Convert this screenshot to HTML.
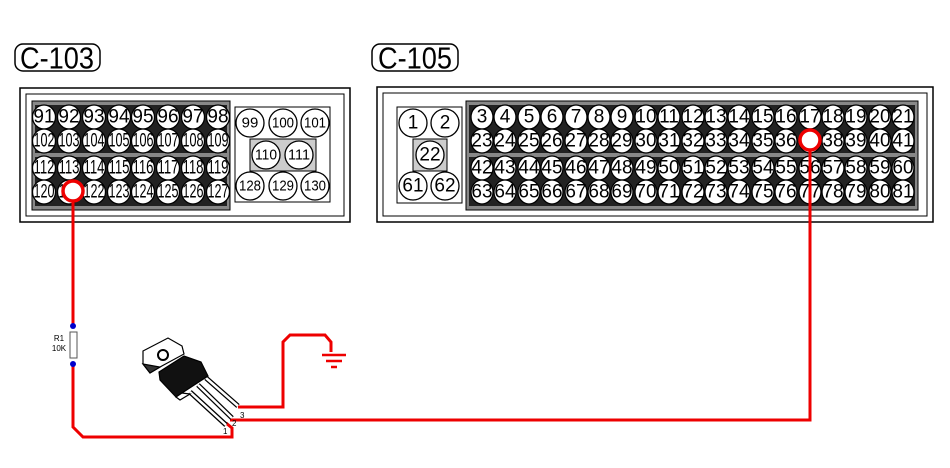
<!DOCTYPE html>
<html><head><meta charset="utf-8"><style>
body{margin:0;background:#fff}
svg{display:block}
.p{fill:#fff;stroke:#000;stroke-width:1.3}
.t{font-family:"Liberation Sans",sans-serif;font-size:19px;text-anchor:middle;dominant-baseline:central;fill:#000}
.s{font-size:15px}
</style></head><body>
<svg width="950" height="468" viewBox="0 0 950 468" xmlns="http://www.w3.org/2000/svg">
<!-- labels -->
<rect x="15" y="44" width="85" height="27" rx="8" fill="none" stroke="#000" stroke-width="1.5"/>
<text x="57" y="58" class="t" style="font-size:31px" textLength="74" lengthAdjust="spacingAndGlyphs">C-103</text>
<rect x="372" y="44" width="86" height="27" rx="8" fill="none" stroke="#000" stroke-width="1.5"/>
<text x="415" y="58" class="t" style="font-size:31px" textLength="74" lengthAdjust="spacingAndGlyphs">C-105</text>

<!-- C-103 box -->
<rect x="20" y="88" width="330" height="134" fill="#fff" stroke="#000" stroke-width="1.5"/>
<rect x="26" y="94" width="318" height="122" fill="none" stroke="#000" stroke-width="1"/>
<rect x="32" y="101" width="198" height="109" fill="#888" stroke="#000"/>
<rect x="35" y="105" width="192" height="48" fill="#222"/>
<rect x="35" y="157" width="192" height="49" fill="#222"/>
<rect x="235" y="107" width="95" height="95" fill="#fff" stroke="#000"/>
<rect x="250" y="139" width="66" height="32" fill="#ccc" stroke="#000"/>

<!-- C-105 box -->
<rect x="377" y="87" width="556" height="135" fill="#fff" stroke="#000" stroke-width="1.5"/>
<rect x="383" y="93" width="544" height="123" fill="none" stroke="#000" stroke-width="1"/>
<rect x="397" y="107" width="65" height="96" fill="#fff" stroke="#000"/>
<rect x="413" y="139" width="34" height="32" fill="#ccc" stroke="#000"/>
<rect x="466" y="101" width="452" height="109" fill="#888" stroke="#000"/>
<rect x="469" y="105" width="446" height="48" fill="#222"/>
<rect x="469" y="157" width="446" height="49" fill="#222"/>

<g id="pins">
<g>
<ellipse class="p" cx="44" cy="117" rx="11.5" ry="12"/><text class="t" x="44" y="117">91</text>
<ellipse class="p" cx="69" cy="117" rx="11.5" ry="12"/><text class="t" x="69" y="117">92</text>
<ellipse class="p" cx="94" cy="117" rx="11.5" ry="12"/><text class="t" x="94" y="117">93</text>
<ellipse class="p" cx="119" cy="117" rx="11.5" ry="12"/><text class="t" x="119" y="117">94</text>
<ellipse class="p" cx="143" cy="117" rx="11.5" ry="12"/><text class="t" x="143" y="117">95</text>
<ellipse class="p" cx="168" cy="117" rx="11.5" ry="12"/><text class="t" x="168" y="117">96</text>
<ellipse class="p" cx="193" cy="117" rx="11.5" ry="12"/><text class="t" x="193" y="117">97</text>
<ellipse class="p" cx="218" cy="117" rx="11.5" ry="12"/><text class="t" x="218" y="117">98</text>
</g>
<g>
<ellipse class="p" cx="44" cy="141" rx="11.5" ry="12"/><text class="t" x="44" y="141" textLength="21" lengthAdjust="spacingAndGlyphs">102</text>
<ellipse class="p" cx="69" cy="141" rx="11.5" ry="12"/><text class="t" x="69" y="141" textLength="21" lengthAdjust="spacingAndGlyphs">103</text>
<ellipse class="p" cx="94" cy="141" rx="11.5" ry="12"/><text class="t" x="94" y="141" textLength="21" lengthAdjust="spacingAndGlyphs">104</text>
<ellipse class="p" cx="119" cy="141" rx="11.5" ry="12"/><text class="t" x="119" y="141" textLength="21" lengthAdjust="spacingAndGlyphs">105</text>
<ellipse class="p" cx="143" cy="141" rx="11.5" ry="12"/><text class="t" x="143" y="141" textLength="21" lengthAdjust="spacingAndGlyphs">106</text>
<ellipse class="p" cx="168" cy="141" rx="11.5" ry="12"/><text class="t" x="168" y="141" textLength="21" lengthAdjust="spacingAndGlyphs">107</text>
<ellipse class="p" cx="193" cy="141" rx="11.5" ry="12"/><text class="t" x="193" y="141" textLength="21" lengthAdjust="spacingAndGlyphs">108</text>
<ellipse class="p" cx="218" cy="141" rx="11.5" ry="12"/><text class="t" x="218" y="141" textLength="21" lengthAdjust="spacingAndGlyphs">109</text>
</g>
<g>
<ellipse class="p" cx="44" cy="168" rx="11.5" ry="12"/><text class="t" x="44" y="168" textLength="21" lengthAdjust="spacingAndGlyphs">112</text>
<ellipse class="p" cx="69" cy="168" rx="11.5" ry="12"/><text class="t" x="69" y="168" textLength="21" lengthAdjust="spacingAndGlyphs">113</text>
<ellipse class="p" cx="94" cy="168" rx="11.5" ry="12"/><text class="t" x="94" y="168" textLength="21" lengthAdjust="spacingAndGlyphs">114</text>
<ellipse class="p" cx="119" cy="168" rx="11.5" ry="12"/><text class="t" x="119" y="168" textLength="21" lengthAdjust="spacingAndGlyphs">115</text>
<ellipse class="p" cx="143" cy="168" rx="11.5" ry="12"/><text class="t" x="143" y="168" textLength="21" lengthAdjust="spacingAndGlyphs">116</text>
<ellipse class="p" cx="168" cy="168" rx="11.5" ry="12"/><text class="t" x="168" y="168" textLength="21" lengthAdjust="spacingAndGlyphs">117</text>
<ellipse class="p" cx="193" cy="168" rx="11.5" ry="12"/><text class="t" x="193" y="168" textLength="21" lengthAdjust="spacingAndGlyphs">118</text>
<ellipse class="p" cx="218" cy="168" rx="11.5" ry="12"/><text class="t" x="218" y="168" textLength="21" lengthAdjust="spacingAndGlyphs">119</text>
</g>
<g>
<ellipse class="p" cx="44" cy="192" rx="11.5" ry="12"/><text class="t" x="44" y="192" textLength="21" lengthAdjust="spacingAndGlyphs">120</text>
<ellipse class="p" cx="69" cy="192" rx="11.5" ry="12"/><text class="t" x="69" y="192" textLength="21" lengthAdjust="spacingAndGlyphs">121</text>
<ellipse class="p" cx="94" cy="192" rx="11.5" ry="12"/><text class="t" x="94" y="192" textLength="21" lengthAdjust="spacingAndGlyphs">122</text>
<ellipse class="p" cx="119" cy="192" rx="11.5" ry="12"/><text class="t" x="119" y="192" textLength="21" lengthAdjust="spacingAndGlyphs">123</text>
<ellipse class="p" cx="143" cy="192" rx="11.5" ry="12"/><text class="t" x="143" y="192" textLength="21" lengthAdjust="spacingAndGlyphs">124</text>
<ellipse class="p" cx="168" cy="192" rx="11.5" ry="12"/><text class="t" x="168" y="192" textLength="21" lengthAdjust="spacingAndGlyphs">125</text>
<ellipse class="p" cx="193" cy="192" rx="11.5" ry="12"/><text class="t" x="193" y="192" textLength="21" lengthAdjust="spacingAndGlyphs">126</text>
<ellipse class="p" cx="218" cy="192" rx="11.5" ry="12"/><text class="t" x="218" y="192" textLength="21" lengthAdjust="spacingAndGlyphs">127</text>
</g>
<circle class="p" cx="250" cy="123" r="14"/><text class="t s" x="250" y="123">99</text>
<circle class="p" cx="283" cy="123" r="14"/><text class="t s" x="283" y="123" textLength="22" lengthAdjust="spacingAndGlyphs">100</text>
<circle class="p" cx="315" cy="123" r="14"/><text class="t s" x="315" y="123" textLength="22" lengthAdjust="spacingAndGlyphs">101</text>
<circle class="p" cx="266" cy="155" r="14"/><text class="t s" x="266" y="155" textLength="22" lengthAdjust="spacingAndGlyphs">110</text>
<circle class="p" cx="299" cy="155" r="14"/><text class="t s" x="299" y="155" textLength="22" lengthAdjust="spacingAndGlyphs">111</text>
<circle class="p" cx="250" cy="186" r="14"/><text class="t s" x="250" y="186" textLength="22" lengthAdjust="spacingAndGlyphs">128</text>
<circle class="p" cx="283" cy="186" r="14"/><text class="t s" x="283" y="186" textLength="22" lengthAdjust="spacingAndGlyphs">129</text>
<circle class="p" cx="315" cy="186" r="14"/><text class="t s" x="315" y="186" textLength="22" lengthAdjust="spacingAndGlyphs">130</text>
<circle class="p" cx="413" cy="123" r="14"/><text class="t" x="413" y="123">1</text>
<circle class="p" cx="445" cy="123" r="14"/><text class="t" x="445" y="123">2</text>
<circle class="p" cx="430" cy="155" r="14"/><text class="t" x="430" y="155">22</text>
<circle class="p" cx="413" cy="186" r="14"/><text class="t" x="413" y="186">61</text>
<circle class="p" cx="445" cy="186" r="14"/><text class="t" x="445" y="186">62</text>
<g>
<ellipse class="p" cx="482" cy="117" rx="11" ry="12"/><text class="t" x="482" y="117">3</text>
<ellipse class="p" cx="505" cy="117" rx="11" ry="12"/><text class="t" x="505" y="117">4</text>
<ellipse class="p" cx="529" cy="117" rx="11" ry="12"/><text class="t" x="529" y="117">5</text>
<ellipse class="p" cx="552" cy="117" rx="11" ry="12"/><text class="t" x="552" y="117">6</text>
<ellipse class="p" cx="576" cy="117" rx="11" ry="12"/><text class="t" x="576" y="117">7</text>
<ellipse class="p" cx="599" cy="117" rx="11" ry="12"/><text class="t" x="599" y="117">8</text>
<ellipse class="p" cx="622" cy="117" rx="11" ry="12"/><text class="t" x="622" y="117">9</text>
<ellipse class="p" cx="646" cy="117" rx="11" ry="12"/><text class="t" x="646" y="117">10</text>
<ellipse class="p" cx="669" cy="117" rx="11" ry="12"/><text class="t" x="669" y="117">11</text>
<ellipse class="p" cx="693" cy="117" rx="11" ry="12"/><text class="t" x="693" y="117">12</text>
<ellipse class="p" cx="716" cy="117" rx="11" ry="12"/><text class="t" x="716" y="117">13</text>
<ellipse class="p" cx="739" cy="117" rx="11" ry="12"/><text class="t" x="739" y="117">14</text>
<ellipse class="p" cx="763" cy="117" rx="11" ry="12"/><text class="t" x="763" y="117">15</text>
<ellipse class="p" cx="786" cy="117" rx="11" ry="12"/><text class="t" x="786" y="117">16</text>
<ellipse class="p" cx="810" cy="117" rx="11" ry="12"/><text class="t" x="810" y="117">17</text>
<ellipse class="p" cx="833" cy="117" rx="11" ry="12"/><text class="t" x="833" y="117">18</text>
<ellipse class="p" cx="856" cy="117" rx="11" ry="12"/><text class="t" x="856" y="117">19</text>
<ellipse class="p" cx="880" cy="117" rx="11" ry="12"/><text class="t" x="880" y="117">20</text>
<ellipse class="p" cx="903" cy="117" rx="11" ry="12"/><text class="t" x="903" y="117">21</text>
</g>
<g>
<ellipse class="p" cx="482" cy="141" rx="11" ry="12"/><text class="t" x="482" y="141">23</text>
<ellipse class="p" cx="505" cy="141" rx="11" ry="12"/><text class="t" x="505" y="141">24</text>
<ellipse class="p" cx="529" cy="141" rx="11" ry="12"/><text class="t" x="529" y="141">25</text>
<ellipse class="p" cx="552" cy="141" rx="11" ry="12"/><text class="t" x="552" y="141">26</text>
<ellipse class="p" cx="576" cy="141" rx="11" ry="12"/><text class="t" x="576" y="141">27</text>
<ellipse class="p" cx="599" cy="141" rx="11" ry="12"/><text class="t" x="599" y="141">28</text>
<ellipse class="p" cx="622" cy="141" rx="11" ry="12"/><text class="t" x="622" y="141">29</text>
<ellipse class="p" cx="646" cy="141" rx="11" ry="12"/><text class="t" x="646" y="141">30</text>
<ellipse class="p" cx="669" cy="141" rx="11" ry="12"/><text class="t" x="669" y="141">31</text>
<ellipse class="p" cx="693" cy="141" rx="11" ry="12"/><text class="t" x="693" y="141">32</text>
<ellipse class="p" cx="716" cy="141" rx="11" ry="12"/><text class="t" x="716" y="141">33</text>
<ellipse class="p" cx="739" cy="141" rx="11" ry="12"/><text class="t" x="739" y="141">34</text>
<ellipse class="p" cx="763" cy="141" rx="11" ry="12"/><text class="t" x="763" y="141">35</text>
<ellipse class="p" cx="786" cy="141" rx="11" ry="12"/><text class="t" x="786" y="141">36</text>
<ellipse class="p" cx="810" cy="141" rx="11" ry="12"/><text class="t" x="810" y="141">37</text>
<ellipse class="p" cx="833" cy="141" rx="11" ry="12"/><text class="t" x="833" y="141">38</text>
<ellipse class="p" cx="856" cy="141" rx="11" ry="12"/><text class="t" x="856" y="141">39</text>
<ellipse class="p" cx="880" cy="141" rx="11" ry="12"/><text class="t" x="880" y="141">40</text>
<ellipse class="p" cx="903" cy="141" rx="11" ry="12"/><text class="t" x="903" y="141">41</text>
</g>
<g>
<ellipse class="p" cx="482" cy="168" rx="11" ry="12"/><text class="t" x="482" y="168">42</text>
<ellipse class="p" cx="505" cy="168" rx="11" ry="12"/><text class="t" x="505" y="168">43</text>
<ellipse class="p" cx="529" cy="168" rx="11" ry="12"/><text class="t" x="529" y="168">44</text>
<ellipse class="p" cx="552" cy="168" rx="11" ry="12"/><text class="t" x="552" y="168">45</text>
<ellipse class="p" cx="576" cy="168" rx="11" ry="12"/><text class="t" x="576" y="168">46</text>
<ellipse class="p" cx="599" cy="168" rx="11" ry="12"/><text class="t" x="599" y="168">47</text>
<ellipse class="p" cx="622" cy="168" rx="11" ry="12"/><text class="t" x="622" y="168">48</text>
<ellipse class="p" cx="646" cy="168" rx="11" ry="12"/><text class="t" x="646" y="168">49</text>
<ellipse class="p" cx="669" cy="168" rx="11" ry="12"/><text class="t" x="669" y="168">50</text>
<ellipse class="p" cx="693" cy="168" rx="11" ry="12"/><text class="t" x="693" y="168">51</text>
<ellipse class="p" cx="716" cy="168" rx="11" ry="12"/><text class="t" x="716" y="168">52</text>
<ellipse class="p" cx="739" cy="168" rx="11" ry="12"/><text class="t" x="739" y="168">53</text>
<ellipse class="p" cx="763" cy="168" rx="11" ry="12"/><text class="t" x="763" y="168">54</text>
<ellipse class="p" cx="786" cy="168" rx="11" ry="12"/><text class="t" x="786" y="168">55</text>
<ellipse class="p" cx="810" cy="168" rx="11" ry="12"/><text class="t" x="810" y="168">56</text>
<ellipse class="p" cx="833" cy="168" rx="11" ry="12"/><text class="t" x="833" y="168">57</text>
<ellipse class="p" cx="856" cy="168" rx="11" ry="12"/><text class="t" x="856" y="168">58</text>
<ellipse class="p" cx="880" cy="168" rx="11" ry="12"/><text class="t" x="880" y="168">59</text>
<ellipse class="p" cx="903" cy="168" rx="11" ry="12"/><text class="t" x="903" y="168">60</text>
</g>
<g>
<ellipse class="p" cx="482" cy="192" rx="11" ry="12"/><text class="t" x="482" y="192">63</text>
<ellipse class="p" cx="505" cy="192" rx="11" ry="12"/><text class="t" x="505" y="192">64</text>
<ellipse class="p" cx="529" cy="192" rx="11" ry="12"/><text class="t" x="529" y="192">65</text>
<ellipse class="p" cx="552" cy="192" rx="11" ry="12"/><text class="t" x="552" y="192">66</text>
<ellipse class="p" cx="576" cy="192" rx="11" ry="12"/><text class="t" x="576" y="192">67</text>
<ellipse class="p" cx="599" cy="192" rx="11" ry="12"/><text class="t" x="599" y="192">68</text>
<ellipse class="p" cx="622" cy="192" rx="11" ry="12"/><text class="t" x="622" y="192">69</text>
<ellipse class="p" cx="646" cy="192" rx="11" ry="12"/><text class="t" x="646" y="192">70</text>
<ellipse class="p" cx="669" cy="192" rx="11" ry="12"/><text class="t" x="669" y="192">71</text>
<ellipse class="p" cx="693" cy="192" rx="11" ry="12"/><text class="t" x="693" y="192">72</text>
<ellipse class="p" cx="716" cy="192" rx="11" ry="12"/><text class="t" x="716" y="192">73</text>
<ellipse class="p" cx="739" cy="192" rx="11" ry="12"/><text class="t" x="739" y="192">74</text>
<ellipse class="p" cx="763" cy="192" rx="11" ry="12"/><text class="t" x="763" y="192">75</text>
<ellipse class="p" cx="786" cy="192" rx="11" ry="12"/><text class="t" x="786" y="192">76</text>
<ellipse class="p" cx="810" cy="192" rx="11" ry="12"/><text class="t" x="810" y="192">77</text>
<ellipse class="p" cx="833" cy="192" rx="11" ry="12"/><text class="t" x="833" y="192">78</text>
<ellipse class="p" cx="856" cy="192" rx="11" ry="12"/><text class="t" x="856" y="192">79</text>
<ellipse class="p" cx="880" cy="192" rx="11" ry="12"/><text class="t" x="880" y="192">80</text>
<ellipse class="p" cx="903" cy="192" rx="11" ry="12"/><text class="t" x="903" y="192">81</text>
</g>
</g>

<!-- wires -->
<g fill="none" stroke="#e00" stroke-width="3" stroke-linejoin="miter">
<polyline points="73,200 73,326"/>
<polyline points="73,364 73,427 83,437 232,437 232,428 226,423"/>
<polyline points="230,420 810,420 810,150"/>
<polyline points="238,407 283,407 283,342 290,335 325,335 331,342 331,352"/>
</g>
<circle cx="73" cy="191" r="10" fill="#fff" stroke="#e00" stroke-width="3.5"/>
<circle cx="810" cy="140" r="10" fill="#fff" stroke="#e00" stroke-width="3.5"/>

<g stroke="#e00" stroke-width="2.5">
<line x1="322" y1="355" x2="346" y2="355"/>
<line x1="326" y1="361" x2="342" y2="361"/>
<line x1="331" y1="367" x2="337" y2="367"/>
</g>

<rect x="70" y="332" width="7" height="26" fill="#fff" stroke="#555" stroke-width="1"/>
<circle cx="73" cy="326" r="3" fill="#00c"/>
<circle cx="73" cy="364" r="3" fill="#00c"/>
<text x="59" y="341" font-family="Liberation Sans,sans-serif" font-size="8" text-anchor="middle">R1</text>
<text x="59" y="351" font-family="Liberation Sans,sans-serif" font-size="8" text-anchor="middle">10K</text>

<g stroke="#000" stroke-width="1.2">
<line x1="190" y1="392" x2="226" y2="425" stroke-width="5"/>
<line x1="190" y1="392" x2="226" y2="425" stroke="#fff" stroke-width="2.5"/>
<line x1="198" y1="385" x2="232" y2="418" stroke-width="5"/>
<line x1="198" y1="385" x2="232" y2="418" stroke="#fff" stroke-width="2.5"/>
<line x1="206" y1="378" x2="238" y2="406" stroke-width="5"/>
<line x1="206" y1="378" x2="238" y2="406" stroke="#fff" stroke-width="2.5"/>
<polygon points="143,351 168,338 182,346 184,354 160,367 150,373 143,364" fill="#fff"/>
<polygon points="150,373 143,364 160,367" fill="#333"/>
<circle cx="163" cy="355" r="5" fill="#fff" stroke-width="2"/>
<polygon points="159,372 184,356 201,362 208,376 182,393 176,397 160,380" fill="#111"/>
<polygon points="176,397 182,393 190,394 180,400" fill="#fff"/>
</g>
<text x="223" y="434" font-family="Liberation Sans,sans-serif" font-size="8">1</text>
<text x="232" y="426" font-family="Liberation Sans,sans-serif" font-size="8">2</text>
<text x="240" y="418" font-family="Liberation Sans,sans-serif" font-size="8">3</text>
</svg>
</body></html>
